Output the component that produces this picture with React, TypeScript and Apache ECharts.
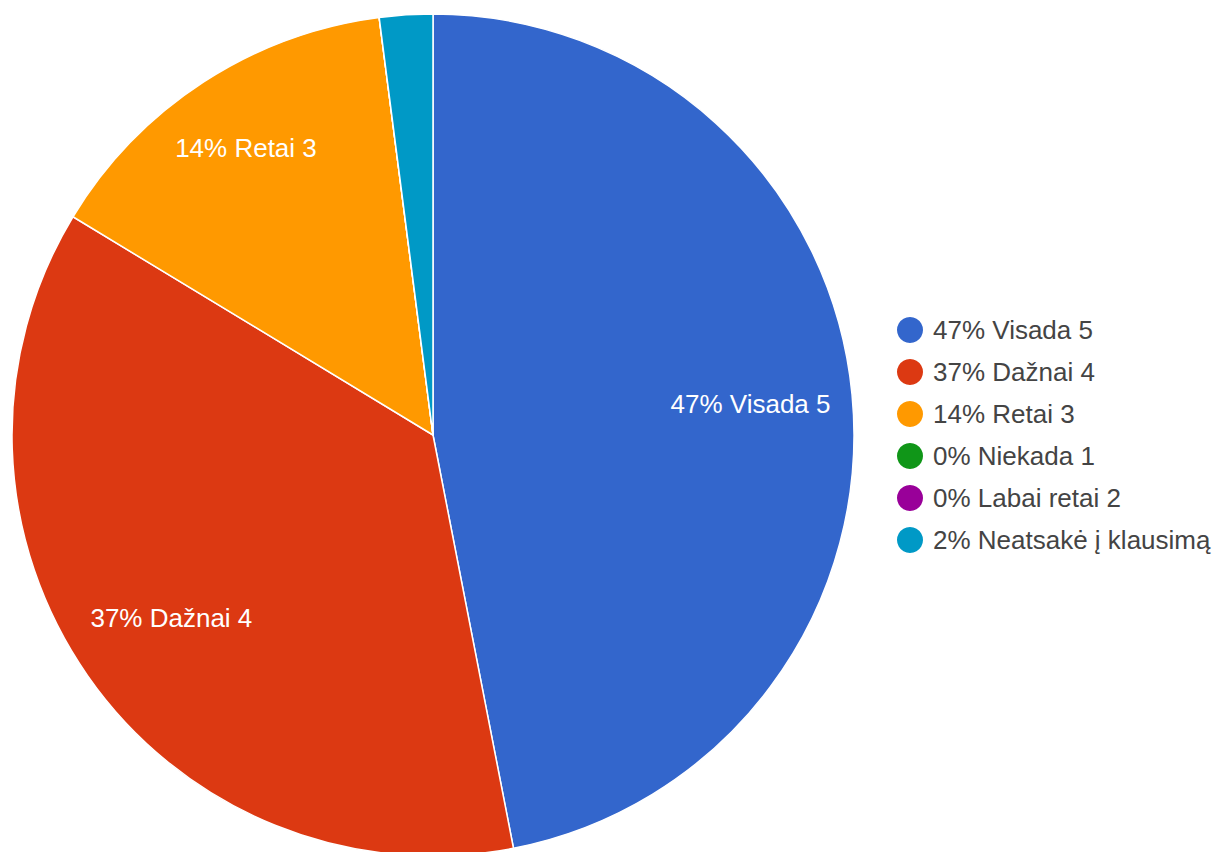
import React, { useEffect, useRef } from "react";
import * as echarts from "echarts";

const categories = ["Visada 5", "Dažnai 4", "Retai 3", "Niekada 1", "Labai retai 2", "Neatsakė į klausimą"];
const counts = [23, 18, 7, 0, 0, 1];
const colors = ["#3366cc", "#dc3912", "#ff9900", "#109618", "#990099", "#0099c6"];

const total = counts.reduce((a, b) => a + b, 0);
const pctOf = (i: number) => Math.round((counts[i] / total) * 100);

export default function App() {
  const ref = useRef<HTMLDivElement>(null);
  useEffect(() => {
    if (!ref.current) return;
    const chart = echarts.init(ref.current, undefined, { renderer: "svg" });
    const font = "'Liberation Sans', Arial, sans-serif";
    const data = categories.map((name, i) => ({
      name,
      value: counts[i],
      itemStyle: { color: colors[i] },
    }));
    chart.setOption({
      animation: false,
      legend: {
        orient: "vertical",
        left: 897,
        top: 317,
        padding: 0,
        icon: "circle",
        itemWidth: 26,
        itemHeight: 26,
        itemGap: 16,
        itemStyle: { borderWidth: 0 },
        textStyle: { fontSize: 26, color: "#444444", fontFamily: font, padding: [0, 0, 0, 5] },
        formatter: (name: string) => `${pctOf(categories.indexOf(name))}% ${name}`,
        data: categories.map((name, i) => ({ name, itemStyle: { color: colors[i], borderWidth: 0 } })),
        selectedMode: false,
      },
      series: [
        {
          type: "pie",
          center: [433, 435],
          radius: [0, 421],
          startAngle: 90,
          clockwise: true,
          silent: true,
          label: { show: false },
          labelLine: { show: false },
          itemStyle: { borderColor: "#ffffff", borderWidth: 1.5 },
          emphasis: { disabled: true },
          data,
        },
        {
          type: "pie",
          center: [433, 435],
          radius: [211, 421],
          startAngle: 90,
          clockwise: true,
          silent: true,
          labelLine: { show: false },
          label: {
            show: true,
            position: "inside",
            color: "#ffffff",
            fontSize: 26,
            fontFamily: font,
            formatter: (p: any) => (pctOf(p.dataIndex) >= 5 ? `${pctOf(p.dataIndex)}% ${p.name}` : ""),
          },
          labelLayout: (p: any) => (p.dataIndex === 2 ? { dx: -13, dy: -20 } : {}),
          itemStyle: { color: "transparent", borderWidth: 0 },
          emphasis: { disabled: true },
          data: categories.map((name, i) => ({ name, value: counts[i] })),
        },
      ],
    });
    return () => chart.dispose();
  }, []);
  return (
    <div
      ref={ref}
      style={{ position: "fixed", left: 0, top: 0, width: 1217, height: 852, background: "#ffffff" }}
    />
  );
}
